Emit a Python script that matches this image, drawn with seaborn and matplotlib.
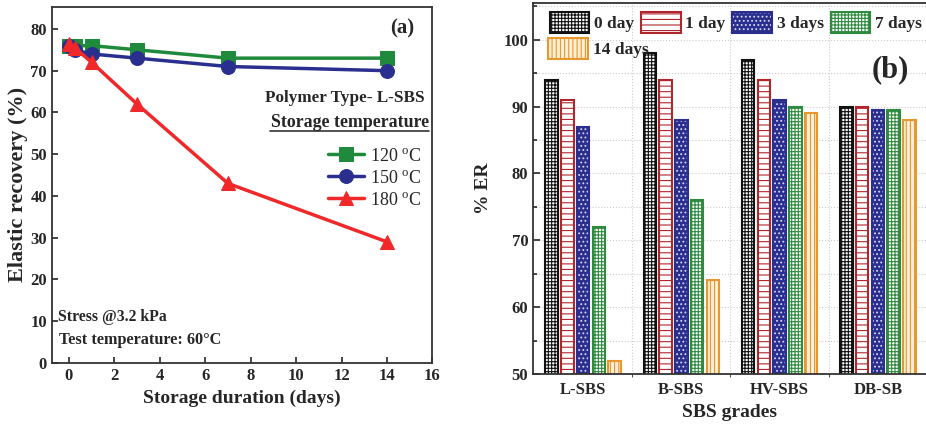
import numpy as np
import pandas as pd
import matplotlib
matplotlib.use("Agg")
import matplotlib.pyplot as plt
import seaborn as sns
from matplotlib.lines import Line2D
from matplotlib.ticker import MultipleLocator

# ---- panel (a) data
days = [0, 0.25, 1, 3, 7, 14]
er_120 = [76, 76, 76, 75, 73, 73]
er_150 = [76, 75, 74, 73, 71, 70]
er_180 = [76.5, 75.5, 72, 62, 43, 29]

# ---- panel (b) data
grades = ["L-SBS", "B-SBS", "HV-SBS", "DB-SB"]
day_labels = ["0 day", "1 day", "3 days", "7 days", "14 days"]
er_0 = [94, 98, 97, 90]
er_1 = [91, 94, 94, 90]
er_3 = [87, 88, 91, 89.5]
er_7 = [72, 76, 90, 89.5]
er_14 = [52, 64, 89, 88]

sns.set_style("ticks")
plt.rcParams['font.family'] = ['Liberation Serif', 'DejaVu Serif']
plt.rcParams['mathtext.fontset'] = 'stix'
plt.rcParams['hatch.linewidth'] = 0.8

fig = plt.figure(figsize=(9.26, 4.25), dpi=100)
ax1 = fig.add_axes([0.056, 0.146, 0.411, 0.838])
ax2 = fig.add_axes([0.5756, 0.12, 0.4244, 0.873])

# ================= (a)
series = [(er_120, "#1f8a3c", "s", "120 $^\\mathregular{o}$C"),
          (er_150, "#2a2f8f", "o", "150 $^\\mathregular{o}$C"),
          (er_180, "#f0282a", "^", "180 $^\\mathregular{o}$C")]
for vals, col, mk, lab in series:
    sns.lineplot(x=days, y=vals, ax=ax1, color=col, marker=mk, markersize=10,
                 markeredgecolor=col, linewidth=2.5, label=lab)

ax1.set_xlim(-0.75, 16)
ax1.set_ylim(0, 85.3)
ax1.xaxis.set_major_locator(MultipleLocator(2))
ax1.yaxis.set_major_locator(MultipleLocator(10))
ax1.tick_params(direction="in", length=4, width=1.2, labelsize=12)
for lab in ax1.get_xticklabels() + ax1.get_yticklabels():
    lab.set_fontweight("bold")
for sp in ax1.spines.values():
    sp.set_linewidth(1.3)
    sp.set_color("#333333")
ax1.set_xlabel("Storage duration (days)", fontsize=14, fontweight="bold")
ax1.set_ylabel("Elastic recovery (%)", fontsize=16, fontweight="bold", labelpad=2)

ax1.text(0.92, 0.94, "(a)", transform=ax1.transAxes, fontsize=15,
         fontweight="bold", ha="center", va="center")
ax1.text(0.98, 0.744, "Polymer Type- L-SBS", transform=ax1.transAxes,
         fontsize=12.3, fontweight="bold", ha="right", va="center")
ax1.text(0.99, 0.676, "Storage temperature", transform=ax1.transAxes,
         fontsize=12.8, fontweight="bold", ha="right", va="center")
ax1.add_line(Line2D([0.572, 0.99], [0.65, 0.65], transform=ax1.transAxes,
                    color="#333333", linewidth=1.2))
ax1.text(0.015, 0.13, "Stress @3.2 kPa", transform=ax1.transAxes,
         fontsize=11.3, fontweight="bold", ha="left", va="center")
ax1.text(0.02, 0.065, "Test temperature: 60°C", transform=ax1.transAxes,
         fontsize=11.7, fontweight="bold", ha="left", va="center")
ax1.legend(loc="upper right", bbox_to_anchor=(0.99, 0.625), frameon=False,
           fontsize=13, handlelength=2.0, handletextpad=0.3, labelspacing=0.28,
           borderaxespad=0)

# ================= (b)
rows = []
for g_i, g in enumerate(grades):
    for d, vals in zip(day_labels, [er_0, er_1, er_3, er_7, er_14]):
        rows.append({"grade": g, "day": d, "er": vals[g_i]})
df = pd.DataFrame(rows)

sns.barplot(data=df, x="grade", y="er", hue="day", hue_order=day_labels,
            ax=ax2, width=0.8, gap=0.2, legend=False, zorder=2)

styles = [
    # face, edge, hatch, hatch color
    ("white", "#111111", "+++++", "#111111"),
    ("white", "#b0262c", "---", "#b0262c"),
    ("#2a2f8f", "#2a2f8f", "....", "#d8d8f0"),
    ("white", "#2e8b3e", "+++++", "#2e8b3e"),
    ("#fcefd6", "#e8962e", "||||", "#e8962e"),
]
for cont, (fc, ec, ht, hc) in zip(ax2.containers, styles):
    for p in cont:
        p.set_facecolor(fc)
        p.set_edgecolor(ec)
        p.set_hatch(ht)
        p._hatch_color = matplotlib.colors.to_rgba(hc)
        p.set_linewidth(1.5)

ax2.set_xlim(-0.51, 3.49)
ax2.set_ylim(50, 105.5)
ax2.yaxis.set_major_locator(MultipleLocator(10))
ax2.yaxis.set_minor_locator(MultipleLocator(5))
ax2.tick_params(axis="y", which="both", direction="in", width=1.2, labelsize=12)
ax2.tick_params(axis="y", which="major", length=5)
ax2.tick_params(axis="y", which="minor", length=3)
ax2.tick_params(axis="x", length=0, labelsize=12, pad=6)
for lab in ax2.get_xticklabels() + ax2.get_yticklabels():
    lab.set_fontweight("bold")
ax2.set_xticks([0.5, 1.5, 2.5], minor=True)
ax2.grid(True, which="both", axis="both", linestyle=":", color="#cccccc",
         linewidth=0.8, zorder=0)
ax2.grid(False, which="major", axis="x")
ax2.set_axisbelow(True)
ax2.spines["right"].set_visible(False)
for sp in ["left", "bottom", "top"]:
    ax2.spines[sp].set_linewidth(1.3)
    ax2.spines[sp].set_color("#333333")
ax2.set_xlabel("SBS grades", fontsize=14, fontweight="bold", labelpad=4)
ax2.set_ylabel("% ER", fontsize=14, fontweight="bold", labelpad=8)
ax2.text(0.91, 0.82, "(b)", transform=ax2.transAxes, fontsize=22,
         fontweight="bold", ha="center", va="center")

handles = [c[0] for c in ax2.containers]
leg1 = ax2.legend(handles[:4], day_labels[:4], loc="upper left",
                  bbox_to_anchor=(0.02, 1.0), ncol=4, frameon=False,
                  prop={"weight": "bold", "size": 12.5}, handlelength=2.3,
                  handleheight=1.5, handletextpad=0.25, columnspacing=0.4,
                  borderaxespad=0.1)
ax2.add_artist(leg1)
ax2.legend(handles[4:], day_labels[4:], loc="upper left",
           bbox_to_anchor=(0.015, 0.93), frameon=False,
           prop={"weight": "bold", "size": 12.5}, handlelength=2.3,
           handleheight=1.5, handletextpad=0.3, borderaxespad=0.1)

fig.savefig("out.png", dpi=100)
